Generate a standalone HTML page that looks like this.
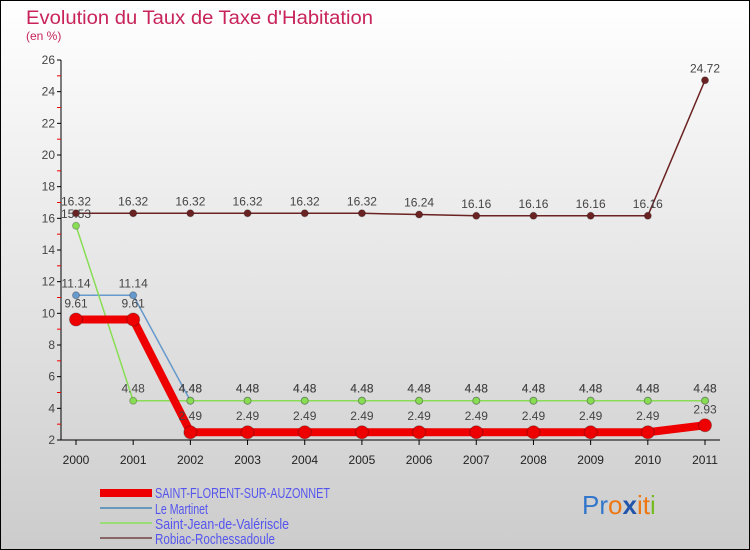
<!DOCTYPE html>
<html><head><meta charset="utf-8"><style>
body{margin:0;}
svg{display:block;font-family:"Liberation Sans",sans-serif;}
</style></head><body>
<svg id="c" width="750" height="550" viewBox="0 0 750 550" xmlns="http://www.w3.org/2000/svg">
<defs><linearGradient id="bg" x1="0" y1="0" x2="0" y2="1"><stop offset="0" stop-color="#ffffff"/><stop offset="1" stop-color="#cccccc"/></linearGradient></defs>
<rect x="0.5" y="0.5" width="749" height="549" fill="url(#bg)" stroke="#000"/>
<text x="26" y="24" font-size="19" fill="#c8245a" textLength="347" lengthAdjust="spacingAndGlyphs">Evolution du Taux de Taxe d'Habitation</text>
<text x="26" y="40" font-size="12" fill="#c8245a">(en %)</text>
<g id="axes"></g><g id="series"></g>
<g>
<rect x="100" y="489" width="52" height="8" fill="#e00"/>
<text x="155" y="498" font-size="15" fill="#5555ee" textLength="175" lengthAdjust="spacingAndGlyphs">SAINT-FLORENT-SUR-AUZONNET</text>
<line x1="100" y1="508" x2="152" y2="508" stroke="#6699bb" stroke-width="2"/>
<text x="155" y="514" font-size="15" fill="#5555ee" textLength="53" lengthAdjust="spacingAndGlyphs">Le Martinet</text>
<line x1="100" y1="523" x2="152" y2="523" stroke="#99dd77" stroke-width="2"/>
<text x="155" y="529" font-size="15" fill="#5555ee" textLength="134" lengthAdjust="spacingAndGlyphs">Saint-Jean-de-Valériscle</text>
<line x1="100" y1="538" x2="152" y2="538" stroke="#886666" stroke-width="2"/>
<text x="155" y="544" font-size="15" fill="#5555ee" textLength="120" lengthAdjust="spacingAndGlyphs">Robiac-Rochessadoule</text>
</g>
<text x="582" y="514" font-size="26"><tspan fill="#3377cc">Pr</tspan><tspan fill="#ee7711">o</tspan><tspan fill="#2255aa" font-weight="bold">x</tspan><tspan fill="#ee7711">it</tspan><tspan fill="#77bb22">i</tspan></text>
</svg>
<script>
const years=[2000,2001,2002,2003,2004,2005,2006,2007,2008,2009,2010,2011];
const yTicks=[2,4,6,8,10,12,14,16,18,20,22,24,26];
const sStFlorent=[9.61,9.61,2.49,2.49,2.49,2.49,2.49,2.49,2.49,2.49,2.49,2.93];
const sMartinet=[11.14,11.14,4.48,4.48,4.48,4.48,4.48,4.48,4.48,4.48,4.48,4.48];
const sStJean=[15.53,4.48,4.48,4.48,4.48,4.48,4.48,4.48,4.48,4.48,4.48,4.48];
const sRobiac=[16.32,16.32,16.32,16.32,16.32,16.32,16.24,16.16,16.16,16.16,16.16,24.72];
const NS="http://www.w3.org/2000/svg";
const X=i=>76+i*(705-76)/(years.length-1);
const Y=v=>440-(v-2)*(380/24);
function mk(t,a,p){const e=document.createElementNS(NS,t);for(const k in a)e.setAttribute(k,a[k]);p.appendChild(e);return e;}
const ax=document.getElementById('axes');
mk('line',{x1:61,y1:60,x2:61,y2:440,stroke:'#000'},ax);
mk('line',{x1:61,y1:440,x2:720,y2:440,stroke:'#000'},ax);
yTicks.forEach(v=>{const y=Y(v);
 const t=mk('line',{x1:57,y1:y,x2:61,y2:y,stroke:'#000'},ax);
 
 
 if(v<26){mk('line',{x1:57,y1:Y(v+1),x2:61,y2:Y(v+1),stroke:'#e00'},ax);}
 const l=mk('text',{x:55,y:y+4,'font-size':12,fill:'#444','text-anchor':'end'},ax);l.textContent=v;
 
 
});
years.forEach((yr,i)=>{
 mk('line',{x1:X(i),y1:440,x2:X(i),y2:445,stroke:'#000'},ax);
 const l=mk('text',{x:X(i),y:464,'font-size':12,fill:'#222','text-anchor':'middle'},ax);l.textContent=yr;
 
 
});
const sg=document.getElementById('series');
function draw(vals,color,w,r,name,labelOff){
 const g=mk('g',{},sg);
 
 
 mk('polyline',{points:vals.map((v,i)=>X(i)+','+Y(v)).join(' '),fill:'none',stroke:color,'stroke-width':w,'stroke-linejoin':'round'},g);
 vals.forEach((v,i)=>{
  const c=mk('circle',{cx:X(i),cy:Y(v),r:r,fill:color,stroke:'rgba(0,0,0,0.25)'},g);
  
  
  const t=mk('text',{x:X(i),y:Y(v)-labelOff,'font-size':12,fill:'#444','text-anchor':'middle'},g);t.textContent=v.toFixed(2);
  
  
 });
}
draw(sRobiac,'#6b2222',1.5,3.5,'series-robiac',8);
draw(sMartinet,'#6699cc',1.5,3.5,'series-le-martinet',8);
draw(sStJean,'#88dd55',1.5,3.5,'series-saint-jean',8);
draw(sStFlorent,'#ee0000',8,6.5,'series-saint-florent',12);
</script>
</body></html>
